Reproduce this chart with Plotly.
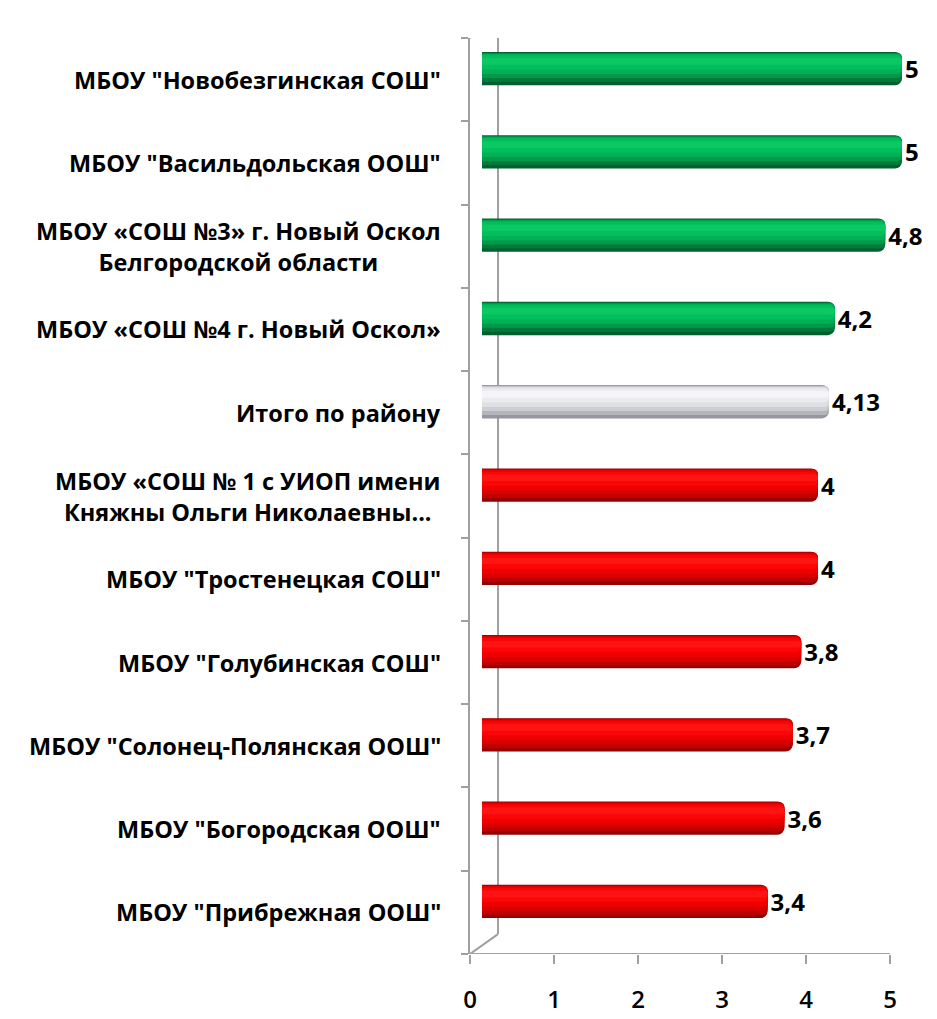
import plotly.graph_objects as go

# ---- data (top to bottom as in the chart) ----
schools = [
    'МБОУ "Новобезгинская СОШ"',
    'МБОУ "Васильдольская ООШ"',
    'МБОУ «СОШ №3» г. Новый Оскол<br>Белгородской области',
    'МБОУ «СОШ №4 г. Новый Оскол»',
    'Итого по району',
    'МБОУ «СОШ № 1 с УИОП имени<br>Княжны Ольги Николаевны...',
    'МБОУ "Тростенецкая СОШ"',
    'МБОУ "Голубинская СОШ"',
    'МБОУ "Солонец-Полянская ООШ"',
    'МБОУ "Богородская ООШ"',
    'МБОУ "Прибрежная ООШ"',
]
scores = [5, 5, 4.8, 4.2, 4.13, 4, 4, 3.8, 3.7, 3.6, 3.4]
groups = ['above', 'above', 'above', 'above', 'total',
          'below', 'below', 'below', 'below', 'below', 'below']
x_ticks = [0, 1, 2, 3, 4, 5]

# ---- styling: cylinder shading layers (colour per group, top gap, bottom gap) ----
layers = [
    ({'above': '#005F2E', 'total': '#96969E', 'below': '#960000'}, 0.00, 0.00),
    ({'above': '#007A3B', 'total': '#B4B4BC', 'below': '#BE0000'}, 0.02, 0.10),
    ({'above': '#00984A', 'total': '#CDCDD4', 'below': '#DA0000'}, 0.04, 0.22),
    ({'above': '#00B055', 'total': '#DFDFE5', 'below': '#EE0000'}, 0.06, 0.34),
    ({'above': '#00BF5C', 'total': '#EBEBF0', 'below': '#FA0606'}, 0.10, 0.48),
    ({'above': '#0BC862', 'total': '#F5F5F8', 'below': '#FF1414'}, 0.18, 0.62),
]
FONT = 'Open Sans'
n = len(schools)
ypos = [n - 1 - i for i in range(n)]
texts = [f"{v:g}".replace('.', ',') for v in scores]

BAR_W = 0.40
fig = go.Figure()
for k, (cols, top_gap, bot_gap) in enumerate(layers):
    w = BAR_W * (1 - top_gap - bot_gap)
    off = BAR_W / 2 - top_gap * BAR_W - w
    fig.add_trace(go.Bar(
        x=scores, y=ypos, orientation='h',
        xaxis='x2', yaxis='y2',
        width=w, offset=off,
        marker=dict(color=[cols[g] for g in groups], line=dict(width=0),
                    cornerradius=7 if k == 0 else 5),
        text=texts if k == 0 else None,
        textposition='outside' if k == 0 else 'none',
        textfont=dict(family=FONT, size=24, color='black', weight='bold'),
        cliponaxis=False,
        showlegend=False, hoverinfo='skip',
    ))

# page body has an 8px margin: positions below are in figure coordinates
PX_PER_UNIT = 84.0
plot_left, plot_right = 462, 922
plot_top, plot_bottom = 30, 949
fig_w, fig_h = 937, 1019
x_max = (plot_right - plot_left) / PX_PER_UNIT
band = (plot_bottom - plot_top) / n
dx = 12 / PX_PER_UNIT       # depth shift of bars (x)
dy = 11 / band              # depth shift of bars (y)
wall_dx = 28 / PX_PER_UNIT
wall_dy_bot = 20 / band
wall_dy_top = 23 / band

axis_col = '#A0A0A0'
fig.update_layout(
    width=fig_w, height=fig_h,
    margin=dict(l=plot_left, r=fig_w - plot_right, t=plot_top, b=fig_h - plot_bottom),
    paper_bgcolor='white', plot_bgcolor='white',
    barmode='overlay',
    xaxis=dict(range=[0, x_max], tickvals=x_ticks, ticktext=[str(t) for t in x_ticks],
               showgrid=False, zeroline=False, showline=False,
               ticks='outside', ticklen=9, tickwidth=2, tickcolor=axis_col,
               ticklabelstandoff=15,
               tickfont=dict(family=FONT, size=24, color='black', weight=600)),
    xaxis2=dict(range=[-dx, x_max - dx], overlaying='x', visible=False),
    yaxis=dict(range=[-0.5, n - 0.5], tickvals=[i - 0.5 for i in range(n + 1)],
               showticklabels=False, showgrid=False, zeroline=False,
               showline=True, linecolor=axis_col, linewidth=2,
               ticks='outside', ticklen=7, tickwidth=2, tickcolor=axis_col),
    yaxis2=dict(range=[-0.5 - dy, n - 0.5 - dy], overlaying='y', visible=False),
)

# 3D frame: back wall and connecting diagonals, bottom axis line
line = dict(color=axis_col, width=2)
fig.add_shape(type='line', xref='x', yref='y', x0=wall_dx, x1=wall_dx,
              y0=-0.5 + wall_dy_bot, y1=n - 0.5 + wall_dy_top, line=line, layer='below')
fig.add_shape(type='line', xref='x', yref='y', x0=0, x1=wall_dx,
              y0=-0.5, y1=-0.5 + wall_dy_bot, line=line, layer='below')
fig.add_shape(type='line', xref='x', yref='y', x0=0, x1=wall_dx,
              y0=n - 0.5, y1=n - 0.5 + wall_dy_top, line=line, layer='below')
fig.add_shape(type='line', xref='x', yref='y', x0=0, x1=x_ticks[-1],
              y0=-0.5, y1=-0.5, line=line, layer='below')

# category labels (centered multi-line, right anchored)
label_right = -27 / (plot_right - plot_left)
for name, y in zip(schools, ypos):
    fig.add_annotation(x=label_right, y=y, xref='paper', yref='y',
                       text=name, showarrow=False, xanchor='right', yanchor='middle',
                       align='center',
                       font=dict(family=FONT, size=23.5, color='black', weight='bold'))

fig.write_html('out.html')
